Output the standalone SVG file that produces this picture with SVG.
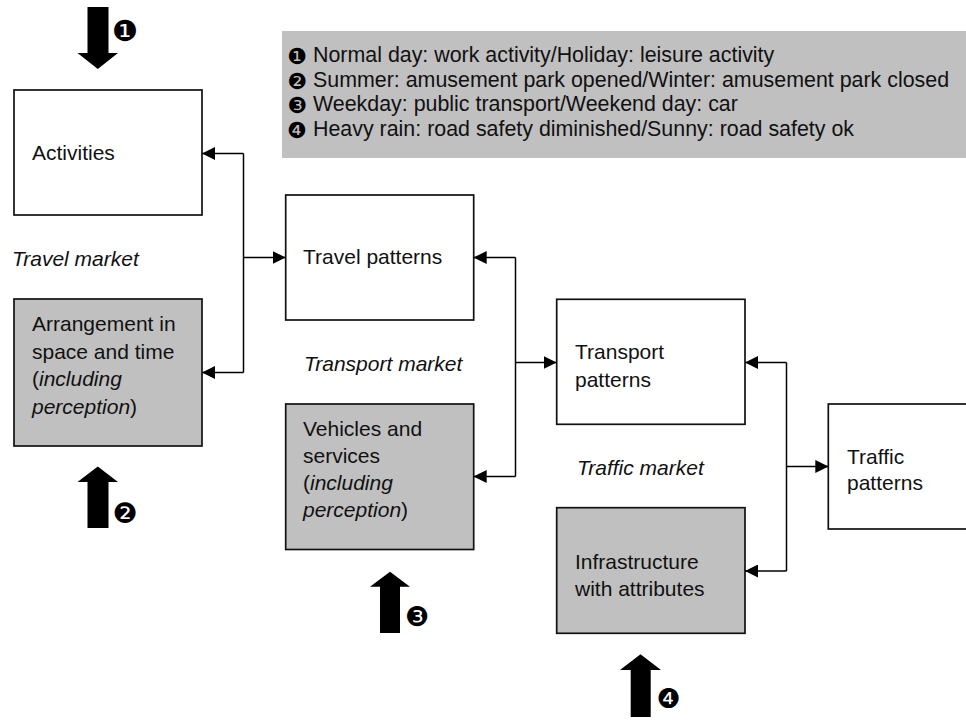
<svg xmlns="http://www.w3.org/2000/svg" width="966" height="720" viewBox="0 0 966 720">
<style>
  .box { stroke: #111; stroke-width: 1.7; }
  .white { fill: #ffffff; }
  .gray { fill: #c0c0c0; }
  .t { font-family: "Liberation Sans", Arial, sans-serif; font-size: 21px; fill: #111; }
  .it { font-style: italic; }
  .leg { font-family: "Liberation Sans", Arial, sans-serif; font-size: 21.4px; fill: #111; }
  .badge { font-family: "DejaVu Sans", sans-serif; fill: #000; text-anchor: middle; }
  .conn { stroke: #000; stroke-width: 1.5; fill: none; }
  .block { fill: #000; }
</style>
<defs>
  <marker id="ah" markerWidth="13" markerHeight="13" refX="13" refY="6.5" orient="auto" markerUnits="userSpaceOnUse">
    <path d="M0,0 L13,6.5 L0,13 Z" fill="#000"/>
  </marker>
</defs>
<rect width="966" height="720" fill="#ffffff"/>

<g id="legend">
  <rect x="282" y="31" width="684" height="127" class="gray"/>
  <text class="badge" x="297" y="64" font-size="22">❶</text>
  <text class="leg" x="313" y="62">Normal day: work activity/Holiday: leisure activity</text>
  <text class="badge" x="297" y="89" font-size="22">❷</text>
  <text class="leg" x="313" y="87">Summer: amusement park opened/Winter: amusement park closed</text>
  <text class="badge" x="297" y="113" font-size="22">❸</text>
  <text class="leg" x="313" y="111">Weekday: public transport/Weekend day: car</text>
  <text class="badge" x="297" y="138" font-size="22">❹</text>
  <text class="leg" x="313" y="136">Heavy rain: road safety diminished/Sunny: road safety ok</text>
</g>

<g id="activities">
  <rect x="14" y="90" width="188" height="125" class="box white"/>
  <text class="t" x="32" y="160">Activities</text>
</g>

<g id="travel-market-label">
  <text class="t it" x="12" y="266">Travel market</text>
</g>

<g id="arrangement">
  <rect x="14" y="299" width="188" height="147" class="box gray"/>
  <text class="t" x="32" y="331">Arrangement in</text>
  <text class="t" x="32" y="358.5">space and time</text>
  <text class="t" x="32" y="386">(<tspan class="it">including</tspan></text>
  <text class="t" x="32" y="413.5"><tspan class="it">perception</tspan>)</text>
</g>

<g id="travel-patterns">
  <rect x="285.7" y="195" width="188" height="125" class="box white"/>
  <text class="t" x="303" y="264">Travel patterns</text>
</g>

<g id="transport-market-label">
  <text class="t it" x="304" y="371">Transport market</text>
</g>

<g id="vehicles">
  <rect x="285.7" y="404" width="188" height="145.5" class="box gray"/>
  <text class="t" x="303" y="435.5">Vehicles and</text>
  <text class="t" x="303" y="462.5">services</text>
  <text class="t" x="303" y="490">(<tspan class="it">including</tspan></text>
  <text class="t" x="303" y="517"><tspan class="it">perception</tspan>)</text>
</g>

<g id="transport-patterns">
  <rect x="556.7" y="299.3" width="188.3" height="125" class="box white"/>
  <text class="t" x="575" y="359">Transport</text>
  <text class="t" x="575" y="386.5">patterns</text>
</g>

<g id="traffic-market-label">
  <text class="t it" x="577" y="475">Traffic market</text>
</g>

<g id="infrastructure">
  <rect x="556.7" y="507.7" width="188.3" height="125.6" class="box gray"/>
  <text class="t" x="575" y="568.5">Infrastructure</text>
  <text class="t" x="575" y="596">with attributes</text>
</g>

<g id="traffic-patterns">
  <rect x="828.3" y="404" width="150" height="125" class="box white"/>
  <text class="t" x="847" y="464">Traffic</text>
  <text class="t" x="847" y="490">patterns</text>
</g>

<g id="connectors">
  <path class="conn" d="M243.5,153.5 V372.5"/>
  <path class="conn" d="M243.5,153.5 H202" marker-end="url(#ah)"/>
  <path class="conn" d="M243.5,372.5 H202" marker-end="url(#ah)"/>
  <path class="conn" d="M243.5,257.5 H285.7" marker-end="url(#ah)"/>
  <path class="conn" d="M515.5,257.5 V476.5"/>
  <path class="conn" d="M515.5,257.5 H473.7" marker-end="url(#ah)"/>
  <path class="conn" d="M515.5,476.5 H473.7" marker-end="url(#ah)"/>
  <path class="conn" d="M515.5,362.5 H556.7" marker-end="url(#ah)"/>
  <path class="conn" d="M786.5,362.5 V571"/>
  <path class="conn" d="M786.5,362.5 H745" marker-end="url(#ah)"/>
  <path class="conn" d="M786.5,571 H745" marker-end="url(#ah)"/>
  <path class="conn" d="M786.5,466.5 H828.3" marker-end="url(#ah)"/>
</g>

<g id="influence-1">
  <polygon class="block" points="87.5,7 108.5,7 108.5,53 118,53 97.8,69 77.5,53 87.5,53"/>
  <text class="badge" x="125" y="40.5" font-size="29">❶</text>
</g>
<g id="influence-2">
  <polygon class="block" points="87.5,528 108.5,528 108.5,482 118,482 97.8,466.5 77.5,482 87.5,482"/>
  <text class="badge" x="125" y="522.5" font-size="28">❷</text>
</g>
<g id="influence-3">
  <polygon class="block" points="380,633 400,633 400,586.7 410,586.7 390,571.7 370,586.7 380,586.7"/>
  <text class="badge" x="417" y="626" font-size="27">❸</text>
</g>
<g id="influence-4">
  <polygon class="block" points="630.7,717 650.7,717 650.7,670 661,670 640.5,654.3 620,670 630.7,670"/>
  <text class="badge" x="668.5" y="707.5" font-size="27">❹</text>
</g>
</svg>
